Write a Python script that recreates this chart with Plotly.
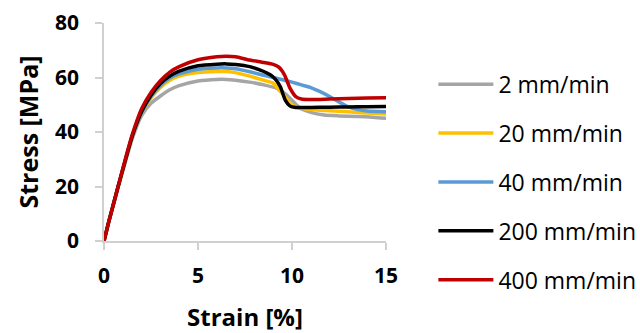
import plotly.graph_objects as go

series_names = ["2 mm/min", "20 mm/min", "40 mm/min", "200 mm/min", "400 mm/min"]
colors = ["#A5A5A5", "#FFC000", "#5B9BD5", "#000000", "#C00000"]

strain_2 = [0, 0.25, 0.5, 0.75, 1, 1.25, 1.5, 2, 2.5, 3, 3.5, 4, 5, 6, 6.5, 7, 7.75, 8.5, 9.2, 9.6, 9.9, 10.4, 11, 11.7, 12.5, 13.5, 14.3, 15]
stress_2 = [0, 6.8, 13.3, 19.6, 25.8, 31.8, 37.5, 46, 50.5, 53.2, 55.5, 57, 58.7, 59.3, 59.3, 59, 58.3, 57.3, 56, 54.3, 52.4, 48.9, 47.2, 46.2, 45.9, 45.7, 45.4, 45]

strain_20 = [0, 0.25, 0.5, 0.75, 1, 1.25, 1.5, 2, 2.5, 3, 3.5, 4, 5, 6, 6.5, 7, 7.75, 8.5, 9, 9.3, 9.55, 10, 10.5, 11.3, 12, 13, 14, 15]
stress_20 = [0, 6.9, 13.4, 19.8, 26, 32.2, 38.2, 46.8, 52.5, 56.3, 59, 60.5, 61.8, 62.2, 62.2, 61.8, 60.5, 59, 57.9, 55.5, 53.6, 49.9, 48.7, 48.1, 47.8, 47.4, 47, 46.6]

strain_40 = [0, 0.25, 0.5, 0.75, 1, 1.25, 1.5, 2, 2.5, 3, 3.5, 4, 5, 6, 6.5, 7, 7.75, 8.5, 9.5, 10, 10.5, 11, 11.5, 12, 12.5, 13, 13.5, 14, 15]
stress_40 = [0, 6.9, 13.4, 19.9, 26.1, 32.3, 38.3, 47, 53, 57, 59.8, 61.3, 63, 63.5, 63.5, 63.2, 62.1, 60.8, 59.2, 58.3, 57.3, 56.3, 54.8, 53, 51, 49.2, 48.2, 47.7, 47.4]

strain_200 = [0, 0.25, 0.5, 0.75, 1, 1.25, 1.5, 2, 2.5, 3, 3.5, 4, 5, 6, 6.5, 7, 7.75, 8.5, 8.84, 9.1, 9.38, 9.64, 9.9, 10.2, 11, 12, 13, 14, 15]
stress_200 = [0, 7, 13.5, 20, 26.3, 32.5, 38.5, 47.5, 53.5, 57.8, 60.5, 62.3, 64.3, 64.9, 65, 64.8, 64, 62.2, 61, 59.5, 56.6, 51.7, 49.5, 49, 49, 49.1, 49.2, 49.3, 49.4]

strain_400 = [0, 0.25, 0.5, 0.75, 1, 1.25, 1.5, 2, 2.5, 3, 3.5, 4, 5, 6, 6.5, 7, 7.75, 8.5, 9, 9.3, 9.6, 9.9, 10.2, 10.5, 11, 12, 13, 14, 15]
stress_400 = [0, 7, 13.5, 20, 26.5, 33, 39, 48.5, 54.5, 58.8, 62, 64, 66.5, 67.6, 67.8, 67.6, 66.4, 65.5, 64.8, 63.8, 61, 56, 53, 52.1, 51.9, 52.1, 52.3, 52.5, 52.6]

x_data = [strain_2, strain_20, strain_40, strain_200, strain_400]
y_data = [stress_2, stress_20, stress_40, stress_200, stress_400]

x_ticks = [0, 5, 10, 15]
y_ticks = [0, 20, 40, 60, 80]

fig = go.Figure()
for name, col, xs, ys in zip(series_names, colors, x_data, y_data):
    fig.add_trace(go.Scatter(
        x=xs, y=ys, name=name, mode="lines",
        line=dict(color=col, width=3.5, shape="spline", smoothing=0.6),
        legendgroup=name,
    ))

axis_common = dict(
    showgrid=False, zeroline=False, showline=True, linecolor="#D0D0D0", linewidth=1.5,
    ticks="outside", ticklen=7, tickcolor="#D0D0D0", tickwidth=1.5, automargin=True,
    tickfont=dict(family="Open Sans", size=21, color="#000000", weight="bold"),
)

fig.update_layout(
    width=640, height=333,
    margin=dict(l=104, r=254, t=23, b=92, autoexpand=False),
    paper_bgcolor="white", plot_bgcolor="white",
    font=dict(family="Open Sans", color="#000000"),
    xaxis=dict(range=[0, 15], tickvals=x_ticks, ticklabelstandoff=8,
               title=dict(text="Strain [%]", font=dict(size=24, weight="bold"), standoff=22),
               **axis_common),
    yaxis=dict(range=[0, 80], tickvals=y_ticks, ticklabelstandoff=12,
               title=dict(text="Stress [MPa]", font=dict(size=25, weight="bold"), standoff=9),
               **axis_common),
    legend=dict(x=1.168, xanchor="left", y=0.818, yanchor="top", maxheight=320,
                font=dict(family="Open Sans", size=23, color="#000000"),
                tracegroupgap=16, itemwidth=55, bgcolor="rgba(0,0,0,0)"),
    showlegend=True,
)

fig.write_html("out.html", config={"displayModeBar": False},
               post_script="document.body.style.margin='0';")
